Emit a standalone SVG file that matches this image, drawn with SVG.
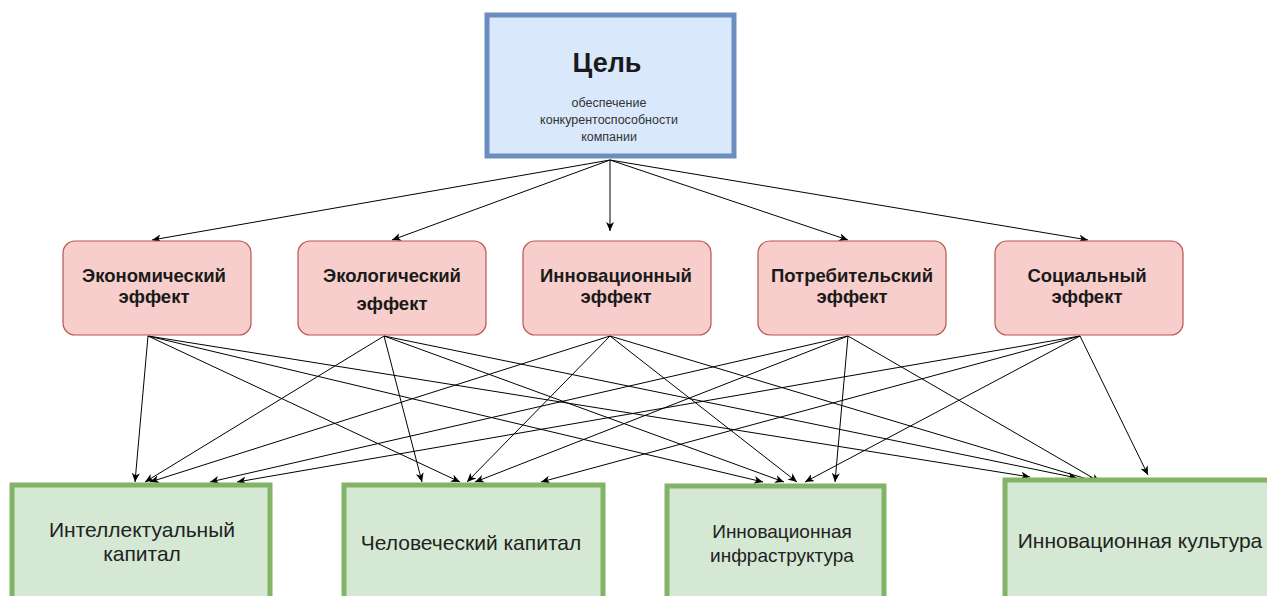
<svg xmlns="http://www.w3.org/2000/svg" width="1267" height="596" viewBox="0 0 1267 596">
<style>
.goal{fill:#dae8fc;stroke:#6c8ebf;stroke-width:5}
.eff{fill:#f8cecc;stroke:#b85450;stroke-width:1.2}
.res{fill:#d5e8d4;stroke:#82b366;stroke-width:5}
.t{font-family:"Liberation Sans",Arial,sans-serif;fill:#1a1a1a;text-anchor:middle}
.b{font-weight:bold;font-size:18.5px}
.r{font-size:21px;fill:#222}
.s{font-size:12.5px;fill:#333}
.c line{stroke:#000;stroke-width:1;marker-end:url(#ah)}
</style>
<defs>
<marker id="ah" markerWidth="10" markerHeight="10" refX="9" refY="4" orient="auto" markerUnits="userSpaceOnUse">
<path d="M0,0 L9,4 L0,8 L2.5,4 Z" fill="#000"/>
</marker>
</defs>
<rect width="1267" height="596" fill="#fff"/>
<g class="c" id="connectors">
<line x1="610" y1="160" x2="152" y2="240"/>
<line x1="610" y1="160" x2="392" y2="240"/>
<line x1="610" y1="160" x2="610" y2="231"/>
<line x1="610" y1="160" x2="848" y2="240"/>
<line x1="610" y1="160" x2="1088" y2="240"/>
<line x1="148" y1="336" x2="135" y2="482"/>
<line x1="384" y1="336" x2="145" y2="482"/>
<line x1="610" y1="336" x2="150" y2="482"/>
<line x1="848" y1="336" x2="210" y2="482"/>
<line x1="1080" y1="336" x2="237" y2="482"/>
<line x1="148" y1="336" x2="460" y2="482"/>
<line x1="384" y1="336" x2="422" y2="482"/>
<line x1="610" y1="336" x2="467" y2="482"/>
<line x1="848" y1="336" x2="475" y2="482"/>
<line x1="1080" y1="336" x2="541" y2="482"/>
<line x1="148" y1="336" x2="763" y2="482"/>
<line x1="384" y1="336" x2="784" y2="482"/>
<line x1="610" y1="336" x2="797" y2="482"/>
<line x1="848" y1="336" x2="835" y2="482"/>
<line x1="1080" y1="336" x2="805" y2="482"/>
<line x1="148" y1="336" x2="1030" y2="477"/>
<line x1="384" y1="336" x2="1077" y2="478"/>
<line x1="610" y1="336" x2="1097" y2="482"/>
<line x1="848" y1="336" x2="1100" y2="482"/>
<line x1="1080" y1="336" x2="1148" y2="475"/>
</g>
<g id="goal">
<rect class="goal" x="487" y="15" width="247" height="141"/>
<text class="t" x="607" y="72" style="font-size:27px;font-weight:bold">Цель</text>
<text class="t s" x="609" y="107">обеспечение</text>
<text class="t s" x="609" y="124">конкурентоспособности</text>
<text class="t s" x="609" y="141">компании</text>
</g>
<g id="eff1">
<rect class="eff" x="63" y="241" width="188" height="94" rx="12"/>
<text class="t b" x="154" y="282">Экономический</text>
<text class="t b" x="154" y="303">эффект</text>
</g>
<g id="eff2">
<rect class="eff" x="298" y="241" width="188" height="94" rx="12"/>
<text class="t b" x="392" y="282">Экологический</text>
<text class="t b" x="392" y="310">эффект</text>
</g>
<g id="eff3">
<rect class="eff" x="523" y="241" width="188" height="94" rx="12"/>
<text class="t b" x="616" y="282">Инновационный</text>
<text class="t b" x="616" y="303">эффект</text>
</g>
<g id="eff4">
<rect class="eff" x="758" y="241" width="188" height="94" rx="12"/>
<text class="t b" x="852" y="282">Потребительский</text>
<text class="t b" x="852" y="303">эффект</text>
</g>
<g id="eff5">
<rect class="eff" x="995" y="241" width="188" height="94" rx="12"/>
<text class="t b" x="1087" y="282">Социальный</text>
<text class="t b" x="1087" y="303">эффект</text>
</g>
<g id="res1">
<rect class="res" x="12" y="485" width="258" height="130"/>
<text class="t r" x="142" y="537">Интеллектуальный</text>
<text class="t r" x="142" y="561">капитал</text>
</g>
<g id="res2">
<rect class="res" x="344" y="485" width="259" height="130"/>
<text class="t r" x="471" y="550">Человеческий капитал</text>
</g>
<g id="res3">
<rect class="res" x="667" y="486" width="217" height="130"/>
<text class="t r" x="782" y="538" style="font-size:19px">Инновационная</text>
<text class="t r" x="782" y="562" style="font-size:19px">инфраструктура</text>
</g>
<g id="res4">
<rect class="res" x="1005" y="480" width="265" height="135"/>
<text class="t r" x="1140" y="548">Инновационная культура</text>
</g>
</svg>
